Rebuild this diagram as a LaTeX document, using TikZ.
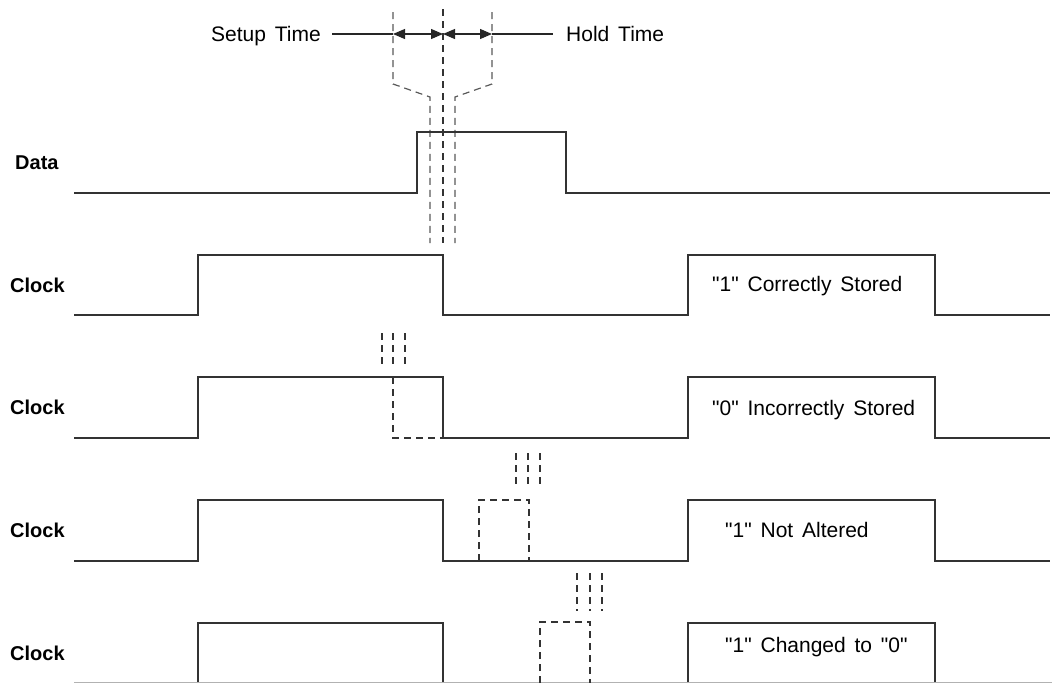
\documentclass[tikz,border=0pt]{standalone}
\usepackage{fontspec}
\setmainfont{Liberation Sans}[Ligatures=TeXOff]
\usetikzlibrary{arrows.meta}
\newcommand{\gap}{\hspace{0.42em}}
\begin{document}
\begin{tikzpicture}[x=1pt,y=-1pt,
  wave/.style={draw=black!80, line width=1.25pt},
  guide/.style={draw=black!80, line width=1.2pt, dash pattern=on 7pt off 5pt},
  lightguide/.style={guide, draw=black!65},
  lbl/.style={font=\fontsize{20}{24}\selectfont\bfseries, anchor=base west, inner sep=0pt},
  note/.style={font=\fontsize{21}{25}\selectfont, anchor=base west, inner sep=0pt},
  dimline/.style={draw=black!85, line width=1.1pt},
  dimarrow/.style={dimline, {Triangle[length=12pt,width=10pt]}-{Triangle[length=12pt,width=10pt]}}]
\useasboundingbox (0,0) rectangle (1052,683);

% ---- setup / hold dimensioning at the top
\node[note] (setup) at (211,41) {Setup\gap Time};
\node[note] (hold)  at (566,41) {Hold\gap Time};
\coordinate (s0) at (332,34);
\coordinate (s1) at (393,34);
\coordinate (s2) at (443,34);
\coordinate (s3) at (492,34);
\coordinate (s4) at (553,34);
\draw[dimline] (s0) -- (s1);
\draw[dimline] (s3) -- (s4);
\draw[dimarrow] (s1) -- (s2);
\draw[dimarrow] (s2) -- (s3);

% guide lines falling from the dimension marks onto the data edge
\draw[lightguide] (393,12) -- (393,84) -- (430,97) -- (430,243);
\draw[guide] (443,9) -- (443,243);
\draw[lightguide] (492,12) -- (492,84) -- (455,97) -- (455,243);

% ---- signal names
\node[lbl] (ldata) at (15,169) {Data};
\node[lbl] (lclk1) at (10,292) {Clock};
\node[lbl] (lclk2) at (10,414) {Clock};
\node[lbl] (lclk3) at (10,537) {Clock};
\node[lbl] (lclk4) at (10,660) {Clock};

% ---- data waveform
\draw[wave] (74,193) -- (417,193) -- (417,132) -- (566,132) -- (566,193) -- (1050,193);

% ---- clock waveforms
\draw[wave] (74,315) -- (198,315) -- (198,255) -- (443,255) -- (443,315)
  -- (688,315) -- (688,255) -- (935,255) -- (935,315) -- (1050,315);
\draw[wave] (74,438) -- (198,438) -- (198,377) -- (443,377) -- (443,438)
  -- (688,438) -- (688,377) -- (935,377) -- (935,438) -- (1050,438);
\draw[wave] (74,561) -- (198,561) -- (198,500) -- (443,500) -- (443,561)
  -- (688,561) -- (688,500) -- (935,500) -- (935,561) -- (1050,561);
\draw[wave] (198,683) -- (198,623) -- (443,623) -- (443,683);
\draw[wave] (688,683) -- (688,623) -- (935,623) -- (935,683);
\draw[draw=black!30, line width=1.2pt] (74,682.5) -- (1052,682.5);

% ---- outcome notes
\node[note] (n1) at (712,291) {"1"\gap Correctly\gap Stored};
\node[note] (n2) at (712,415) {"0"\gap Incorrectly\gap Stored};
\node[note] (n3) at (725,537) {"1"\gap Not\gap Altered};
\node[note] (n4) at (725,652) {"1"\gap Changed\gap to\gap "0"};

% ---- data edge landing in each case
\foreach \x in {382,393,405} \draw[guide] (\x,333) -- (\x,367);
\draw[guide] (393,377) -- (393,438) -- (443,438);

\foreach \x in {516,528,540} \draw[guide] (\x,453) -- (\x,489);
\draw[guide] (479,561) -- (479,500) -- (529,500) -- (529,561);

\foreach \x in {577,590,602} \draw[guide] (\x,573) -- (\x,611);
\draw[guide] (540,683) -- (540,622) -- (590,622) -- (590,683);
\end{tikzpicture}
\end{document}
